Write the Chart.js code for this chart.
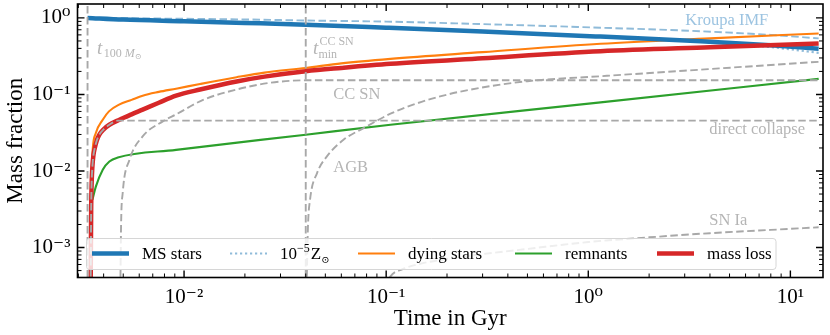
<!DOCTYPE html>
<html><head><meta charset="utf-8">
<script src="https://cdn.jsdelivr.net/npm/chart.js@4.4.1/dist/chart.umd.min.js"></script>
<style>html,body{margin:0;padding:0;background:#fff;}#wrap{width:830px;height:335px;}</style>
</head><body><div id="wrap"><canvas id="c" width="830" height="335"></canvas></div>
<script>
// ---------------- data (time in Gyr, mass fraction) ----------------
const tMS       = [0.00333, 0.005, 0.01, 0.02, 0.04, 0.1, 0.3, 1.15, 3.6, 8, 13.8];
const msStars   = [1.0, 0.95, 0.905, 0.86, 0.815, 0.745, 0.665, 0.57, 0.497, 0.44, 0.395];

const tLowZ     = [0.00333, 0.005, 0.01, 0.02, 0.04, 0.1, 0.3, 1.15, 3.6, 8, 13.8];
const msLowZ    = [1.0, 0.95, 0.905, 0.86, 0.815, 0.745, 0.665, 0.568, 0.488, 0.415, 0.35];

const tKroupa   = [0.00333, 0.005, 0.01, 0.02, 0.04, 0.1, 0.3, 1.15, 3.6, 8, 13.8];
const kroupa    = [1.0, 0.99, 0.975, 0.955, 0.925, 0.895, 0.83, 0.745, 0.67, 0.6, 0.54];

const tDying    = [0.00345, 0.00347, 0.00349, 0.00353, 0.00366, 0.00396, 0.00425, 0.00477, 0.0055, 0.00624, 0.0075, 0.00913, 0.012, 0.0182, 0.025, 0.04, 0.06, 0.105, 0.3, 1.15, 4, 13.8];
const dying     = [0.0003, 0.003, 0.009, 0.0189, 0.0313, 0.0468, 0.0601, 0.0736, 0.085, 0.0965, 0.108, 0.119, 0.137, 0.168, 0.193, 0.222, 0.255, 0.292, 0.357, 0.459, 0.54, 0.627];

const tLoss     = [0.00345, 0.00347, 0.00349, 0.00352, 0.00356, 0.0036, 0.0037, 0.00381, 0.004, 0.00427, 0.00479, 0.0055, 0.00624, 0.0075, 0.00913, 0.012, 0.0182, 0.025, 0.04, 0.06, 0.105, 0.3, 1.15, 4, 13.8];
const massLoss  = [0.0003, 0.003, 0.007, 0.0115, 0.016, 0.0189, 0.025, 0.0298, 0.035, 0.0402, 0.0468, 0.055, 0.0633, 0.078, 0.0965, 0.116, 0.148, 0.171, 0.201, 0.222, 0.251, 0.298, 0.367, 0.414, 0.463];

const tRem      = [0.00352, 0.00366, 0.00396, 0.00427, 0.0047, 0.00913, 0.04, 0.105, 1.15, 13.8];
const remnants  = [0.0042, 0.00625, 0.0104, 0.0133, 0.015, 0.0189, 0.0298, 0.0402, 0.0788, 0.160];

const tDC       = [0.00345, 0.00347, 0.00349, 0.00352, 0.00356, 0.0036, 0.0037, 0.00381, 0.004, 0.00427, 0.0047, 13.8];
const directCollapse = [0.0003, 0.003, 0.007, 0.0115, 0.016, 0.0189, 0.025, 0.0298, 0.035, 0.0402, 0.0455, 0.0455];

const tCCSN     = [0.00484, 0.00488, 0.00497, 0.00537, 0.00624, 0.00785, 0.00913, 0.0125, 0.0182, 0.0266, 0.04, 13.8];
const ccsn      = [0.0003, 0.002, 0.00516, 0.014, 0.0283, 0.0445, 0.055, 0.0855, 0.116, 0.142, 0.153, 0.153];

const tAGB      = [0.0404, 0.041, 0.042, 0.0455, 0.0509, 0.0615, 0.0774, 0.105, 0.136, 0.2, 0.292, 0.5, 1.15, 3.6, 13.8];
const agb       = [0.0003, 0.0018, 0.0042, 0.0094, 0.0155, 0.0256, 0.0364, 0.056, 0.0736, 0.0995, 0.122, 0.149, 0.173, 0.211, 0.267];

const tIa       = [0.099, 0.105, 0.12, 0.15, 0.2, 0.3, 0.5, 1.0, 2, 4, 8, 13.8];
const snIa      = [0.0003, 0.00042, 0.00052, 0.00062, 0.00071, 0.00082, 0.00096, 0.00118, 0.00136, 0.00154, 0.0017, 0.00184];

const tStar100  = 0.00333;   // lifetime of a 100 Msun star
const tMinCCSN  = 0.04;      // minimum CC SN delay

const xLimits   = [0.00297, 14.5];
const yLimits   = [4.06e-4, 1.52];
const xMajor    = [1e-2, 1e-1, 1, 10];
const yMajor    = [1e-3, 1e-2, 1e-1, 1];
const supDigits = {'-':'\u207B','0':'\u2070','1':'\u00B9','2':'\u00B2','3':'\u00B3','4':'\u2074','5':'\u2075','6':'\u2076','7':'\u2077','8':'\u2078','9':'\u2079'};

// ---------------- styles ----------------
const FONT = "'Liberation Serif','DejaVu Serif',serif";
const COL = {blue:'#1f77b4', lightBlue:'#8fbbd9', orange:'#ff7f0e', green:'#2ca02c', red:'#d62728', gray:'#a8a8a8', annot:'#b5b5b5', annotBlue:'#9dc4e1'};
const DASH = [7.5, 3.5];

function pts(ts, vs){ return ts.map((t,i)=>({x:t, y:vs[i]})); }
function vline(t){ return [{x:t, y:yLimits[0]}, {x:t, y:yLimits[1]}]; }
function pow10Label(v){
  const e = Math.round(Math.log10(v));
  return '10' + String(e).split('').map(c=>supDigits[c]).join('');
}

// first dataset is drawn on top
const datasets = [
  {label:'direct collapse', data:pts(tDC, directCollapse), borderColor:COL.gray, borderWidth:1.9, borderDash:DASH},
  {label:'CC SN', data:pts(tCCSN, ccsn), borderColor:COL.gray, borderWidth:1.9, borderDash:DASH},
  {label:'AGB', data:pts(tAGB, agb), borderColor:COL.gray, borderWidth:1.9, borderDash:DASH},
  {label:'SN Ia', data:pts(tIa, snIa), borderColor:COL.gray, borderWidth:1.9, borderDash:DASH},
  {label:'t100', data:vline(tStar100), borderColor:COL.gray, borderWidth:1.9, borderDash:DASH, cubicInterpolationMode:'default'},
  {label:'tmin', data:vline(tMinCCSN), borderColor:COL.gray, borderWidth:1.9, borderDash:DASH, cubicInterpolationMode:'default'},
  {label:'mass loss', data:pts(tLoss, massLoss), borderColor:COL.red, borderWidth:4.5},
  {label:'MS stars', data:pts(tMS, msStars), borderColor:COL.blue, borderWidth:4.5},
  {label:'lowZ', data:pts(tLowZ, msLowZ), borderColor:COL.lightBlue, borderWidth:2.2, borderDash:[2.2,2.8]},
  {label:'dying stars', data:pts(tDying, dying), borderColor:COL.orange, borderWidth:2.1},
  {label:'remnants', data:pts(tRem, remnants), borderColor:COL.green, borderWidth:2.1},
  {label:'Kroupa IMF', data:pts(tKroupa, kroupa), borderColor:COL.lightBlue, borderWidth:1.9, borderDash:DASH},
];

// ---------------- rich text helper ----------------
function drawRich(ctx, x, y, parts, color){
  ctx.fillStyle = color;
  ctx.textBaseline = 'alphabetic';
  ctx.textAlign = 'left';
  let cx = x, prevStart = x, maxEnd = x;
  for(const p of parts){
    ctx.font = (p.it ? 'italic ' : '') + p.size + 'px ' + FONT;
    const start = p.same ? prevStart : cx;
    ctx.fillText(p.s, start + (p.dx||0), y + (p.dy||0));
    const end = start + (p.dx||0) + ctx.measureText(p.s).width;
    prevStart = start;
    if(p.same){ maxEnd = Math.max(maxEnd, end); cx = maxEnd; }
    else { cx = end; maxEnd = end; }
  }
}

// annotation texts, anchored at data coordinates (t, value)
const annotations = [
  {t:0.00371, v:0.333, color:COL.annot, parts:[{s:'t',size:19,it:true},{s:'100',size:12,dy:3,dx:1.5},{s:' M',size:12,it:true,dy:3},{s:'\u2299',size:8,dy:5}]},
  {t:0.0435, v:0.333, color:COL.annot, parts:[{s:'t',size:19,it:true},{s:'CC SN',size:12,dy:-9,dx:1},{s:'min',size:12,dy:4,same:true}]},
  {t:0.0547, v:0.0882, color:COL.annot, parts:[{s:'CC SN',size:16.5}]},
  {t:0.0547, v:0.00975, color:COL.annot, parts:[{s:'AGB',size:16.5}]},
  {t:3.02, v:0.80, color:COL.annotBlue, parts:[{s:'Kroupa IMF',size:16.5}]},
  {t:3.97, v:0.0307, color:COL.annot, parts:[{s:'direct collapse',size:16.5}]},
  {t:3.97, v:0.00197, color:COL.annot, parts:[{s:'SN Ia',size:16.5}]},
];

// legend entries (style taken from the datasets)
const legendEntries = [
  {ds:'MS stars', textX:142, parts:[{s:'MS stars',size:17}]},
  {ds:'lowZ', textX:280, parts:[{s:'10',size:17},{s:'\u22125',size:12,dy:-7},{s:'Z',size:17,dx:1},{s:'\u2299',size:10,dy:4}]},
  {ds:'dying stars', textX:408, parts:[{s:'dying stars',size:17}]},
  {ds:'remnants', textX:565, parts:[{s:'remnants',size:17}]},
  {ds:'mass loss', textX:707, parts:[{s:'mass loss',size:17}]},
];

const decor = {
  id:'decor',
  afterDraw(chart){
    const {ctx, chartArea:a, scales:{x, y}} = chart;
    ctx.save();
    // annotations
    for(const an of annotations){
      drawRich(ctx, x.getPixelForValue(an.t), y.getPixelForValue(an.v), an.parts, an.color);
    }
    // ticks, inward on all four sides
    ctx.strokeStyle = '#000';
    const ticksFor = (scale) => {
      const out = [];
      for(let e=-5; e<=2; e++) for(let m=1; m<=9; m++){
        const v = m*Math.pow(10,e);
        if(v >= scale.min && v <= scale.max) out.push({p:scale.getPixelForValue(v), major:m===1});
      }
      return out;
    };
    for(const tk of ticksFor(x)){
      const L = tk.major ? 7 : 4; ctx.lineWidth = tk.major ? 1.4 : 1.0;
      ctx.beginPath();
      ctx.moveTo(tk.p, a.bottom); ctx.lineTo(tk.p, a.bottom - L);
      ctx.moveTo(tk.p, a.top); ctx.lineTo(tk.p, a.top + L);
      ctx.stroke();
    }
    for(const tk of ticksFor(y)){
      const L = tk.major ? 7 : 4; ctx.lineWidth = tk.major ? 1.4 : 1.0;
      ctx.beginPath();
      ctx.moveTo(a.left, tk.p); ctx.lineTo(a.left + L, tk.p);
      ctx.moveTo(a.right, tk.p); ctx.lineTo(a.right - L, tk.p);
      ctx.stroke();
    }
    // legend
    const lx0 = 86.5, lx1 = 776, ly0 = 238.5, ly1 = 269.5, r = 3;
    ctx.beginPath();
    ctx.moveTo(lx0 + r, ly0); ctx.lineTo(lx1 - r, ly0); ctx.quadraticCurveTo(lx1, ly0, lx1, ly0 + r);
    ctx.lineTo(lx1, ly1 - r); ctx.quadraticCurveTo(lx1, ly1, lx1 - r, ly1);
    ctx.lineTo(lx0 + r, ly1); ctx.quadraticCurveTo(lx0, ly1, lx0, ly1 - r);
    ctx.lineTo(lx0, ly0 + r); ctx.quadraticCurveTo(lx0, ly0, lx0 + r, ly0);
    ctx.closePath();
    ctx.fillStyle = 'rgba(255,255,255,0.8)'; ctx.fill();
    ctx.lineWidth = 1; ctx.strokeStyle = '#d6d6d6'; ctx.stroke();
    const ly = 253.5;
    for(const le of legendEntries){
      const ds = chart.data.datasets.find(d => d.label === le.ds);
      ctx.save();
      ctx.strokeStyle = ds.borderColor; ctx.lineWidth = ds.borderWidth;
      ctx.setLineDash(ds.borderDash || []);
      ctx.beginPath(); ctx.moveTo(le.textX - 50, ly); ctx.lineTo(le.textX - 13, ly); ctx.stroke();
      ctx.restore();
      drawRich(ctx, le.textX, 259, le.parts, '#000');
    }
    // frame
    ctx.lineWidth = 1.6; ctx.strokeStyle = '#000'; ctx.setLineDash([]);
    ctx.strokeRect(a.left, a.top, a.right - a.left, a.bottom - a.top);
    ctx.restore();
  }
};

new Chart(document.getElementById('c'), {
  type:'line',
  data:{datasets},
  options:{
    responsive:false, animation:false, devicePixelRatio:1,
    layout:{padding:{top:4, right:7, left:0, bottom:0}},
    elements:{point:{radius:0, hoverRadius:0}, line:{fill:false, tension:0}},
    datasets:{line:{cubicInterpolationMode:'monotone', clip:0}},
    plugins:{legend:{display:false}, tooltip:{enabled:false}},
    scales:{
      x:{type:'logarithmic', min:xLimits[0], max:xLimits[1],
        afterBuildTicks:s=>{ s.ticks = xMajor.map(v=>({value:v})); },
        afterFit:s=>{ s.height = 57.5; s.paddingLeft = 0; s.paddingRight = 0; },
        grid:{display:false, drawTicks:false}, border:{display:false},
        ticks:{callback:v=>pow10Label(v), color:'#000', maxRotation:0, autoSkip:false, padding:7, font:{family:FONT, size:21}},
        title:{display:true, text:'Time in Gyr', color:'#000', font:{family:FONT, size:23}, padding:{top:0, bottom:2}}
      },
      y:{type:'logarithmic', min:yLimits[0], max:yLimits[1],
        afterBuildTicks:s=>{ s.ticks = yMajor.map(v=>({value:v})); },
        afterFit:s=>{ s.width = 77.5; s.paddingTop = 0; s.paddingBottom = 0; },
        grid:{display:false, drawTicks:false}, border:{display:false},
        ticks:{callback:v=>pow10Label(v), color:'#000', autoSkip:false, padding:7, font:{family:FONT, size:21}},
        title:{display:true, text:'Mass fraction', color:'#000', font:{family:FONT, size:23}, padding:{top:2, bottom:0}}
      }
    }
  },
  plugins:[decor]
});
</script></body></html>
